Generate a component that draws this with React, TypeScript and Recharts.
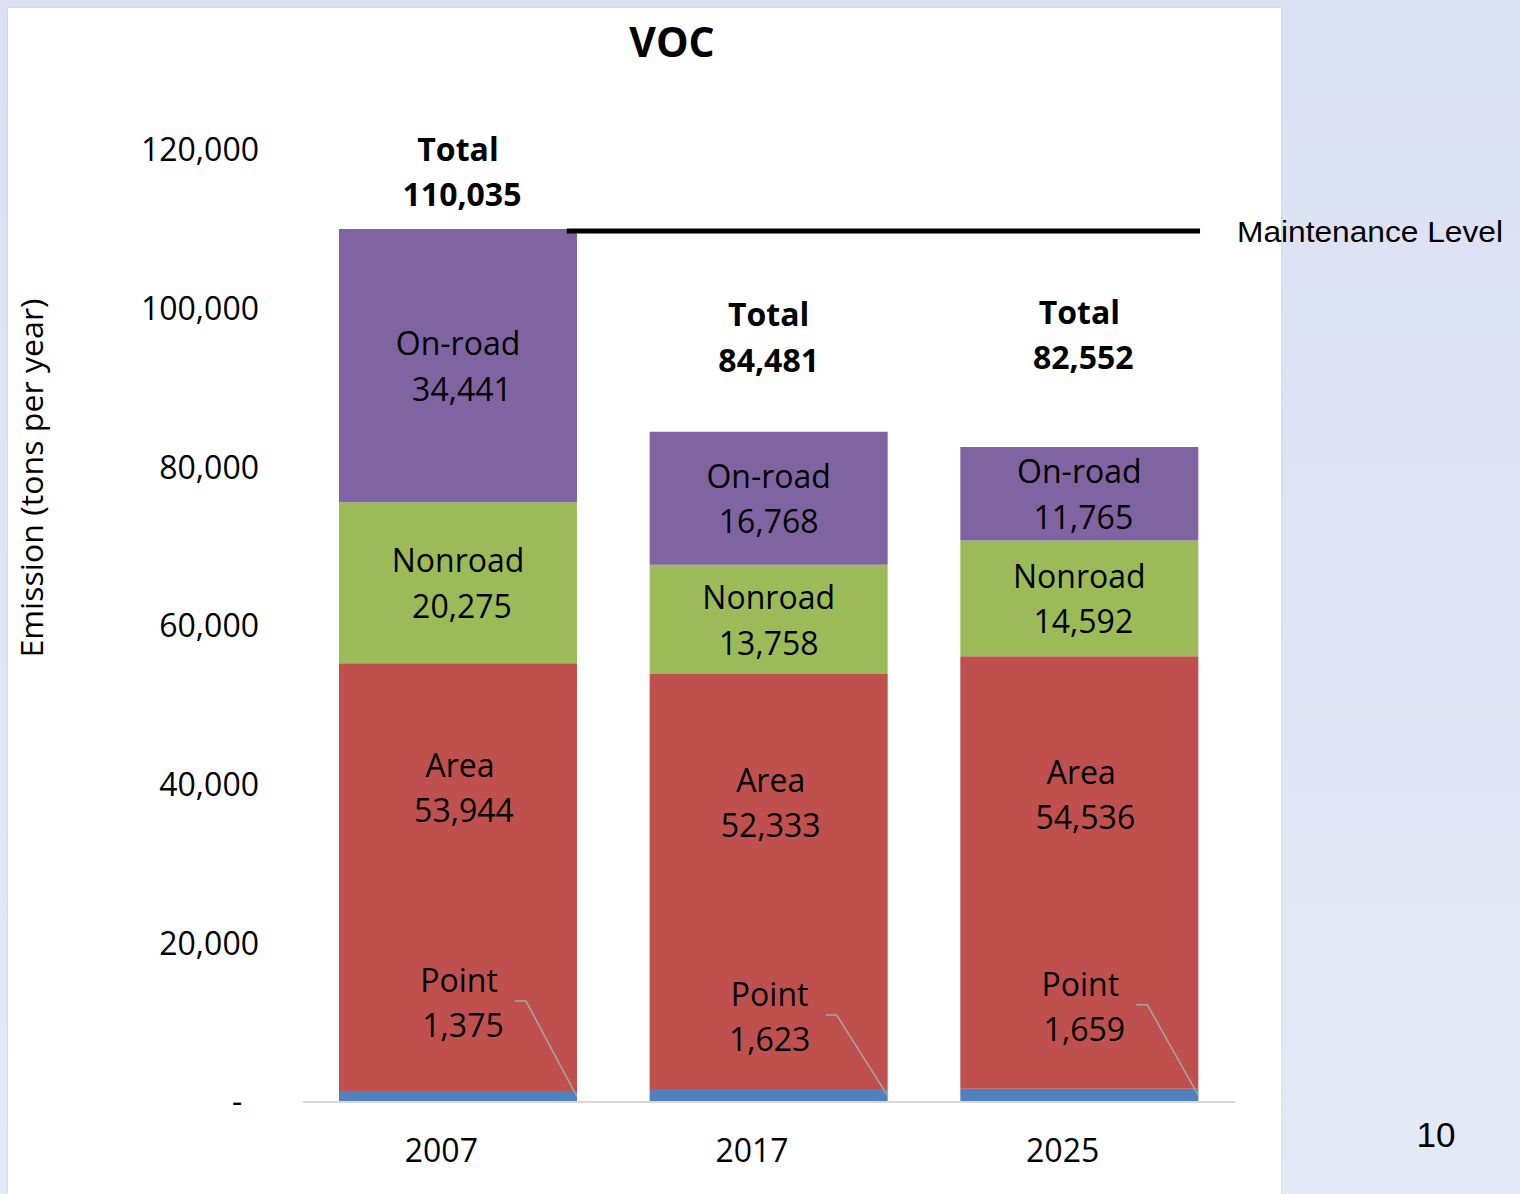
import React from "react";
import {
  BarChart,
  Bar,
  XAxis,
  YAxis,
  LabelList,
  ReferenceLine,
} from "recharts";

// VOC emissions by source (tons per year)
const years = ["2007", "2017", "2025"];
const pointValues = [1375, 1623, 1659];
const areaValues = [53944, 52333, 54536];
const nonroadValues = [20275, 13758, 14592];
const onroadValues = [34441, 16768, 11765];
const totals = [110035, 84481, 82552];
const maintenanceLevel = 110035;
const yTicks = [0, 20000, 40000, 60000, 80000, 100000, 120000];

const COLORS = {
  point: "#4f81bd",
  area: "#c0504d",
  nonroad: "#9bbb59",
  onroad: "#8064a2",
};

// hand placed label offsets (px), as in the original slide
const AREA_LABEL_DY = [125, 129, 139];
const POINT_LABEL_DY = [88, 72, 82];
const TOTAL_LABEL_DY = [57, 94, 112];
const VALUE_DX = [4, 0, 4];

const FONT = "'Open Sans', 'Noto Sans', sans-serif";
const LINE_GAP = 45.5;

const fmt = (v: number) => v.toLocaleString("en-US");

const chartData = years.map((year, i) => ({
  year,
  point: pointValues[i],
  area: areaValues[i],
  nonroad: nonroadValues[i],
  onroad: onroadValues[i],
}));

const getBox = (props: any) => {
  const vb = props.viewBox ?? props;
  const top = Math.min(vb.y, vb.y + vb.height);
  const h = Math.abs(vb.height);
  return { x: vb.x, w: vb.width, top, h, cx: vb.x + vb.width / 2 };
};

// two stacked lines of text centred on (cx, cy)
const TwoLines = ({
  cx,
  cy,
  first,
  second,
  dx = 0,
  bold,
}: {
  cx: number;
  cy: number;
  first: string;
  second: string;
  dx?: number;
  bold?: boolean;
}) => {
  const size = 32;
  const base = size * 0.357;
  return (
    <g>
      <text
        x={cx}
        y={cy - LINE_GAP / 2 + base}
        textAnchor="middle"
        fontFamily={FONT}
        fontSize={size}
        fontWeight={bold ? 700 : 400}
        fill="#000"
      >
        {first}
      </text>
      <text
        x={cx + dx}
        y={cy + LINE_GAP / 2 + base}
        textAnchor="middle"
        fontFamily={FONT}
        fontSize={size}
        fontWeight={bold ? 700 : 400}
        fill="#000"
      >
        {second}
      </text>
    </g>
  );
};

const renderCenterLabel = (name: string) => (props: any) => {
  const i = props.index ?? 0;
  const { cx, top, h } = getBox(props);
  return (
    <TwoLines
      cx={cx}
      cy={top + h / 2 + 1}
      dx={VALUE_DX[i]}
      first={name}
      second={fmt(Number(props.value))}
    />
  );
};

// Area label plus the Point label with its leader line
const renderAreaLabel = (props: any) => {
  const i = props.index ?? 0;
  const { x, w, cx, top, h } = getBox(props);
  const bottom = top + h;
  const pointH = (h * pointValues[i]) / areaValues[i];
  const pointMid = bottom + pointH / 2;
  const pointCy = bottom - POINT_LABEL_DY[i];
  const lx = cx + 57;
  const ly = pointCy - 2;
  return (
    <g>
      <TwoLines
        cx={cx + 2}
        cy={top + AREA_LABEL_DY[i]}
        dx={VALUE_DX[i]}
        first="Area"
        second={fmt(Number(props.value))}
      />
      <TwoLines
        cx={cx + 1}
        cy={pointCy}
        dx={VALUE_DX[i]}
        first="Point"
        second={fmt(pointValues[i])}
      />
      <polyline
        points={`${lx},${ly} ${lx + 11},${ly} ${x + w},${pointMid}`}
        fill="none"
        stroke="#a6a6a6"
        strokeWidth={1.5}
      />
    </g>
  );
};

const renderOnroadLabel = (props: any) => {
  const i = props.index ?? 0;
  const { cx, top, h } = getBox(props);
  return (
    <g>
      <TwoLines
        cx={cx}
        cy={top + h / 2 + 1}
        dx={VALUE_DX[i]}
        first="On-road"
        second={fmt(Number(props.value))}
      />
      <TwoLines
        cx={cx}
        cy={top - TOTAL_LABEL_DY[i]}
        dx={VALUE_DX[i]}
        first="Total"
        second={fmt(totals[i])}
        bold
      />
    </g>
  );
};

const maintenanceShape = (p: any) => {
  const w = p.x2 - p.x1;
  return (
    <line
      x1={p.x1 + w * 0.283}
      x2={p.x1 + w * 0.9625}
      y1={p.y1 + 2}
      y2={p.y2 + 2}
      stroke="#000"
      strokeWidth={5}
    />
  );
};

export default function App() {
  return (
    <div
      style={{
        position: "absolute",
        left: 0,
        top: 0,
        width: 1520,
        height: 1194,
        overflow: "hidden",
        background: "linear-gradient(180deg, #dae1f3 0%, #e4e9f6 100%)",
      }}
    >
      {/* white slide panel */}
      <div
        style={{
          position: "absolute",
          left: 8,
          top: 8,
          width: 1273,
          height: 1190,
          background: "#fff",
          boxShadow: "0 0 2px rgba(0,0,0,0.12)",
        }}
      />
      <div style={{ position: "absolute", left: 0, top: 0 }}>
        <BarChart
          width={1520}
          height={1194}
          data={chartData}
          margin={{ top: 150, right: 285, bottom: 32, left: 0 }}
          barSize={238}
        >
          <XAxis
            dataKey="year"
            height={60}
            axisLine={{ stroke: "#d9d9d9", strokeWidth: 2 }}
            tickLine={false}
            tickSize={0}
            tickMargin={37}
            tick={{ fontFamily: FONT, fontSize: 32, fill: "#000", dx: -17 }}
          />
          <YAxis
            width={303}
            domain={[0, 120000]}
            ticks={yTicks}
            interval={0}
            axisLine={false}
            tickLine={false}
            tickSize={0}
            tickMargin={44}
            tickFormatter={(v: number) => (v === 0 ? "-\u00a0\u00a0" : fmt(v))}
            tick={{ fontFamily: FONT, fontSize: 32, fill: "#000" }}
          />
          <Bar
            dataKey="point"
            stackId="voc"
            fill={COLORS.point}
            isAnimationActive={false}
          />
          <Bar
            dataKey="area"
            stackId="voc"
            fill={COLORS.area}
            isAnimationActive={false}
          >
            <LabelList dataKey="area" content={renderAreaLabel} />
          </Bar>
          <Bar
            dataKey="nonroad"
            stackId="voc"
            fill={COLORS.nonroad}
            isAnimationActive={false}
          >
            <LabelList dataKey="nonroad" content={renderCenterLabel("Nonroad")} />
          </Bar>
          <Bar
            dataKey="onroad"
            stackId="voc"
            fill={COLORS.onroad}
            isAnimationActive={false}
          >
            <LabelList dataKey="onroad" content={renderOnroadLabel} />
          </Bar>
          <ReferenceLine
            y={maintenanceLevel}
            shape={maintenanceShape}
            ifOverflow="visible"
          />
        </BarChart>
      </div>
      {/* title, axis title and slide texts */}
      <svg
        width={1520}
        height={1194}
        style={{ position: "absolute", left: 0, top: 0, pointerEvents: "none" }}
      >
        <text
          x={672}
          y={57}
          textAnchor="middle"
          fontFamily={FONT}
          fontSize={41}
          fontWeight={700}
          fill="#000"
        >
          VOC
        </text>
        <text
          transform="translate(43,478) rotate(-90)"
          textAnchor="middle"
          fontFamily={FONT}
          fontSize={31}
          textLength={359}
          lengthAdjust="spacingAndGlyphs"
          fill="#000"
        >
          Emission (tons per year)
        </text>
        <text
          x={1237}
          y={242}
          fontFamily="'Liberation Sans', Arial, sans-serif"
          fontSize={29}
          textLength={266}
          lengthAdjust="spacingAndGlyphs"
          fill="#000"
        >
          Maintenance Level
        </text>
        <text
          x={1436}
          y={1147}
          textAnchor="middle"
          fontFamily="'Liberation Sans', Arial, sans-serif"
          fontSize={35}
          fill="#000"
        >
          10
        </text>
      </svg>
    </div>
  );
}
